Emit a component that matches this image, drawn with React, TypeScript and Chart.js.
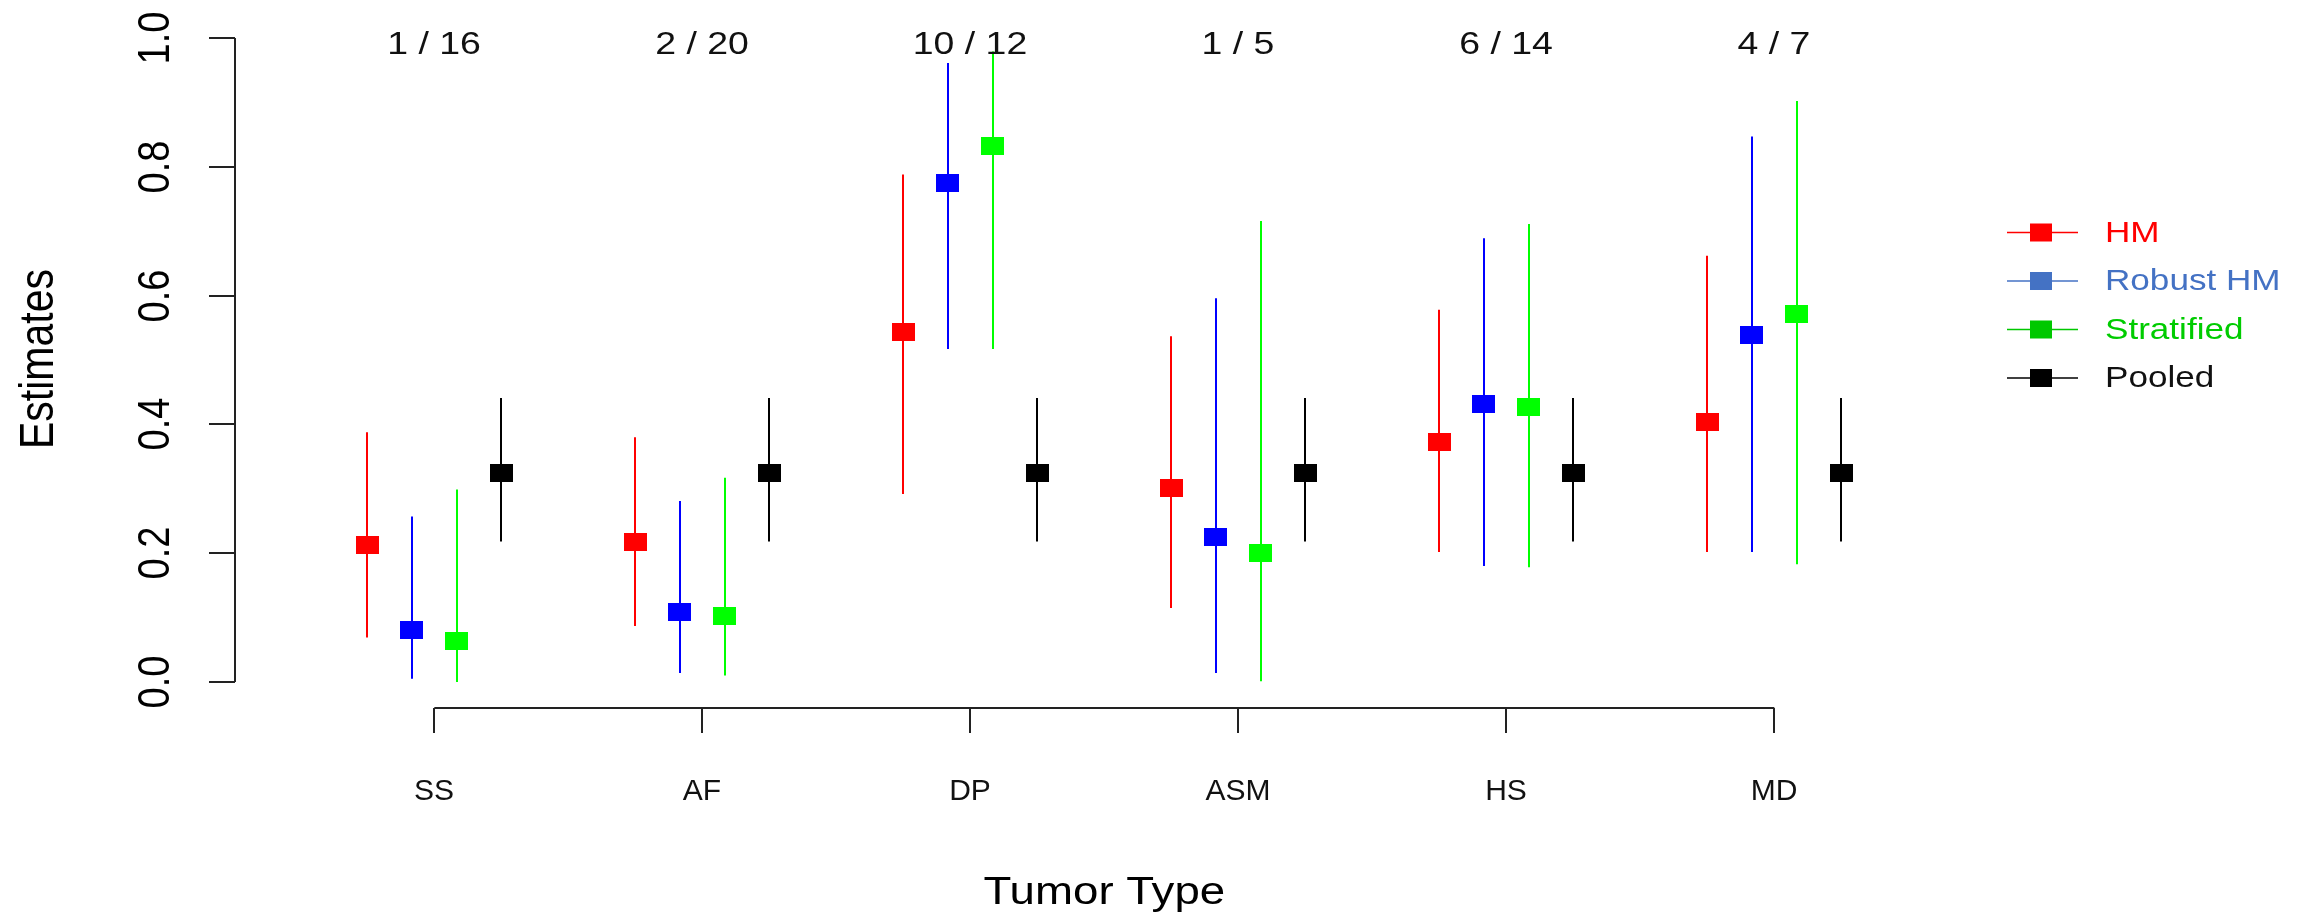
import React, { useEffect, useRef } from 'react';
import { Chart, registerables } from 'chart.js';

Chart.register(...registerables);

// ---------- data ----------
const categories = ['SS', 'AF', 'DP', 'ASM', 'HS', 'MD'];
const countLabels = ['1 / 16', '2 / 20', '10 / 12', '1 / 5', '6 / 14', '4 / 7'];
const seriesNames = ['HM', 'Robust HM', 'Stratified', 'Pooled'];

const hmEst = [0.213, 0.218, 0.543, 0.302, 0.373, 0.404];
const hmLow = [0.069, 0.087, 0.292, 0.115, 0.202, 0.202];
const hmHigh = [0.388, 0.38, 0.788, 0.537, 0.578, 0.662];

const robustEst = [0.08, 0.109, 0.775, 0.225, 0.432, 0.539];
const robustLow = [0.005, 0.014, 0.517, 0.014, 0.18, 0.202];
const robustHigh = [0.257, 0.281, 0.961, 0.596, 0.689, 0.847];

const stratEst = [0.064, 0.102, 0.833, 0.2, 0.427, 0.572];
const stratLow = [0.0, 0.01, 0.517, 0.001, 0.178, 0.183];
const stratHigh = [0.299, 0.317, 0.979, 0.716, 0.711, 0.902];

const pooledEst = [0.324, 0.324, 0.324, 0.324, 0.324, 0.324];
const pooledLow = [0.218, 0.218, 0.218, 0.218, 0.218, 0.218];
const pooledHigh = [0.441, 0.441, 0.441, 0.441, 0.441, 0.441];

const yTicks = [0, 0.2, 0.4, 0.6, 0.8, 1.0];
const yTickLabels = ['0.0', '0.2', '0.4', '0.6', '0.8', '1.0'];

// ---------- styles ----------
const markerColors = ['#ff0000', '#0000ff', '#00ff00', '#000000'];
const legendSymbolColors = ['#ff0000', '#4472c4', '#00c800', '#000000'];
const legendTextColors = ['#ff0000', '#4472c4', '#00cc00', '#111111'];
const dodge = [-0.25, -0.0833, 0.0833, 0.25];
const FONT = '"Liberation Sans", Arial, Helvetica, sans-serif';
const SX = 1.17;
const AXIS_COLOR = '#222222';

const estSeries = [hmEst, robustEst, stratEst, pooledEst];
const lowSeries = [hmLow, robustLow, stratLow, pooledLow];
const highSeries = [hmHigh, robustHigh, stratHigh, pooledHigh];

function makeMarker(color: string, w: number, h: number) {
  const c = document.createElement('canvas');
  c.width = w;
  c.height = h;
  const g = c.getContext('2d')!;
  g.fillStyle = color;
  g.fillRect(0, 0, w, h);
  return c;
}

function drawText(
  ctx: CanvasRenderingContext2D,
  s: string,
  x: number,
  y: number,
  size: number,
  color: string,
  align: CanvasTextAlign,
  baseline: CanvasTextBaseline,
  sx: number,
  rot: number
) {
  ctx.save();
  ctx.translate(x, y);
  ctx.scale(sx, 1);
  if (rot) ctx.rotate(rot);
  ctx.font = `${size}px ${FONT}`;
  ctx.fillStyle = color;
  ctx.textAlign = align;
  ctx.textBaseline = baseline;
  ctx.fillText(s, 0, 0);
  ctx.restore();
}

const errorBarPlugin = {
  id: 'errorBars',
  beforeDatasetsDraw(chart: any) {
    const ctx: CanvasRenderingContext2D = chart.ctx;
    const xs = chart.scales.x;
    const ys = chart.scales.y;
    ctx.save();
    ctx.lineWidth = 2;
    for (let s = 0; s < estSeries.length; s++) {
      ctx.strokeStyle = markerColors[s];
      for (let i = 0; i < categories.length; i++) {
        const px = Math.round(xs.getPixelForValue(i + 1 + dodge[s]));
        ctx.beginPath();
        ctx.moveTo(px, ys.getPixelForValue(lowSeries[s][i]));
        ctx.lineTo(px, ys.getPixelForValue(highSeries[s][i]));
        ctx.stroke();
      }
    }
    ctx.restore();
  },
};

const axesPlugin = {
  id: 'rAxes',
  afterDraw(chart: any) {
    const ctx: CanvasRenderingContext2D = chart.ctx;
    const xs = chart.scales.x;
    const ys = chart.scales.y;
    const area = chart.chartArea;
    ctx.save();
    ctx.strokeStyle = AXIS_COLOR;
    ctx.lineWidth = 2;
    ctx.lineCap = 'butt';

    // y axis
    const ax = Math.round(area.left);
    ctx.beginPath();
    ctx.moveTo(ax, ys.getPixelForValue(yTicks[0]));
    ctx.lineTo(ax, ys.getPixelForValue(yTicks[yTicks.length - 1]));
    ctx.stroke();
    yTicks.forEach((v, k) => {
      const py = Math.round(ys.getPixelForValue(v));
      ctx.beginPath();
      ctx.moveTo(ax - 26, py);
      ctx.lineTo(ax, py);
      ctx.stroke();
      drawText(ctx, yTickLabels[k], ax - 66, py, 38, '#000', 'center', 'alphabetic', SX, -Math.PI / 2);
    });

    // y title
    drawText(ctx, 'Estimates', 53, (area.top + area.bottom) / 2 - 1, 41, '#000', 'center', 'alphabetic', SX, -Math.PI / 2);

    // x axis (R style, offset below)
    const y0 = ys.getPixelForValue(0);
    const xl = Math.round(y0 + 25.6);
    const x1 = xs.getPixelForValue(1);
    const xn = xs.getPixelForValue(categories.length);
    ctx.beginPath();
    ctx.moveTo(x1, xl);
    ctx.lineTo(xn, xl);
    ctx.stroke();
    categories.forEach((c, i) => {
      const px = Math.round(xs.getPixelForValue(i + 1));
      ctx.beginPath();
      ctx.moveTo(px, xl);
      ctx.lineTo(px, xl + 25);
      ctx.stroke();
      drawText(ctx, c, px, 800, 30, '#111', 'center', 'alphabetic', 1, 0);
      drawText(ctx, countLabels[i], px, 53.5, 32, '#111', 'center', 'alphabetic', SX, 0);
    });

    // x title
    drawText(ctx, 'Tumor Type', (x1 + xn) / 2, 904, 39, '#000', 'center', 'alphabetic', SX, 0);

    // legend
    const lx0 = 2007;
    const lx1 = 2078;
    const lmid = 2041;
    seriesNames.forEach((name, k) => {
      const cy = 232.5 + k * 48.5;
      ctx.strokeStyle = legendSymbolColors[k];
      ctx.lineWidth = 1.7;
      ctx.beginPath();
      ctx.moveTo(lx0, cy);
      ctx.lineTo(lx1, cy);
      ctx.stroke();
      ctx.fillStyle = legendSymbolColors[k];
      ctx.fillRect(lmid - 11, cy - 9, 22, 18);
      drawText(ctx, name, 2105, cy + 1, 30, legendTextColors[k], 'left', 'middle', SX, 0);
    });
    ctx.restore();
  },
};

export default function App() {
  const ref = useRef<HTMLCanvasElement | null>(null);

  useEffect(() => {
    document.body.style.margin = '0';
    const canvas = ref.current!;
    const datasets = seriesNames.map((name, s) => ({
      label: name,
      data: categories.map((_, i) => ({ x: i + 1 + dodge[s], y: estSeries[s][i] })),
      pointStyle: makeMarker(markerColors[s], 23, 18) as any,
      pointRadius: 6,
      pointHoverRadius: 6,
      backgroundColor: markerColors[s],
      borderColor: markerColors[s],
      showLine: false,
      clip: false as any,
    }));

    const chart = new Chart(canvas, {
      type: 'scatter',
      data: { datasets },
      options: {
        animation: false,
        responsive: false,
        devicePixelRatio: 1,
        layout: { padding: { left: 235, right: 411, top: 38, bottom: 232 } },
        scales: {
          x: { type: 'linear', min: 0.2563, max: 6.469, display: false },
          y: { type: 'linear', min: 0, max: 1, display: false },
        },
        plugins: {
          legend: { display: false },
          tooltip: { enabled: false },
        },
        events: [],
      },
      plugins: [errorBarPlugin, axesPlugin],
    });
    return () => chart.destroy();
  }, []);

  return (
    <div style={{ position: 'fixed', left: 0, top: 0, width: 2311, height: 914, background: '#ffffff' }}>
      <canvas ref={ref} width={2311} height={914} style={{ display: 'block' }} />
    </div>
  );
}
